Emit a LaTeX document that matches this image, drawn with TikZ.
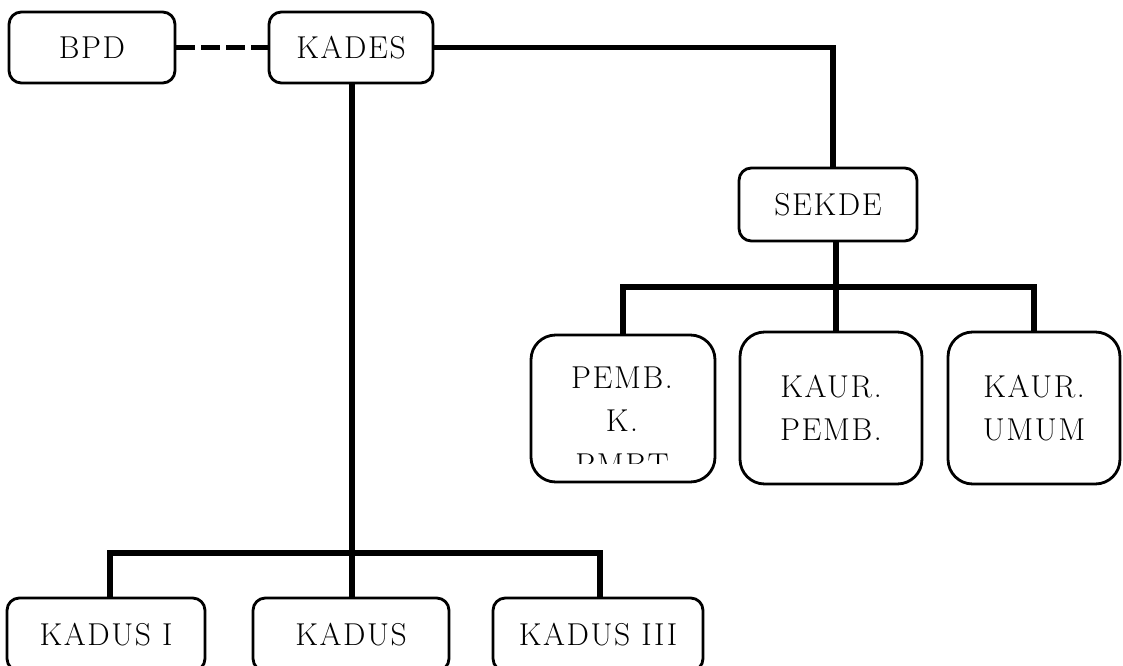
\documentclass[tikz,border=0pt]{standalone}
\usepackage{fontspec}
\setmainfont{Latin Modern Roman}[LetterSpace=5]
\usepackage{tikz}
\usetikzlibrary{positioning}

\begin{document}
\begin{tikzpicture}[x=0.02cm, y=-0.02cm,
  box/.style={draw, line width=1.6pt, rounded corners=7pt, inner sep=0pt,
    align=center, font=\fontsize{18}{24.7}\selectfont},
  bigbox/.style={box, rounded corners=14pt},
  link/.style={line width=3.4pt}]
  \useasboundingbox (0,0) rectangle (1123,666);
  \clip (0,0) rectangle (1123,666);
  \node (bpd) at (92,47.5) [box, minimum width=3.32cm, minimum height=1.42cm] {BPD};
  \node (kades) at (351,47.5) [box, minimum width=3.28cm, minimum height=1.42cm] {KADES};
  \node (sekde) at (828,204.5) [box, minimum width=3.56cm, minimum height=1.46cm] {SEKDE};
  \node (pemb) at (623,408.5) [bigbox, minimum width=3.68cm, minimum height=2.94cm] {};
  \node (kaurp) at (831,408) [bigbox, minimum width=3.64cm, minimum height=3.04cm] {KAUR.\\PEMB.};
  \node (kauru) at (1034,408) [bigbox, minimum width=3.44cm, minimum height=3.04cm] {KAUR.\\UMUM};
  \node (kadus1) at (106,634.5) [box, minimum width=3.96cm, minimum height=1.46cm] {KADUS I};
  \node (kadus2) at (351,634.5) [box, minimum width=3.92cm, minimum height=1.46cm] {KADUS};
  \node (kadus3) at (598,634.5) [box, minimum width=4.2cm, minimum height=1.46cm] {KADUS III};
  \begin{scope}
    \clip (531,335) rectangle (715,463);
    \node (pembtext) at (622,421) [align=center, font=\fontsize{18}{24.7}\selectfont] {PEMB.\\K.\\PMBT};
  \end{scope}
  \coordinate (sbar) at (836,287);
  \coordinate (kl) at (110,553);
  \coordinate (kr) at (600,553);
  \draw [link, dash pattern=on 10.8pt off 3.4pt] (bpd.east) -- (kades.west);
  \draw [link] (kades.east) -| ([xshift=0.1cm]sekde.north);
  \draw [link] (sekde.south -| sbar) -- (kaurp.north -| sbar);
  \draw [link] (pemb.north) |- (sbar) -| (kauru.north);
  \draw [link] ([xshift=0.02cm]kades.south) -- ([xshift=0.02cm]kadus2.north);
  \draw [link] (kadus1.north -| kl) -- (kl) -- (kr) -- (kadus3.north -| kr);
\end{tikzpicture}
\end{document}
